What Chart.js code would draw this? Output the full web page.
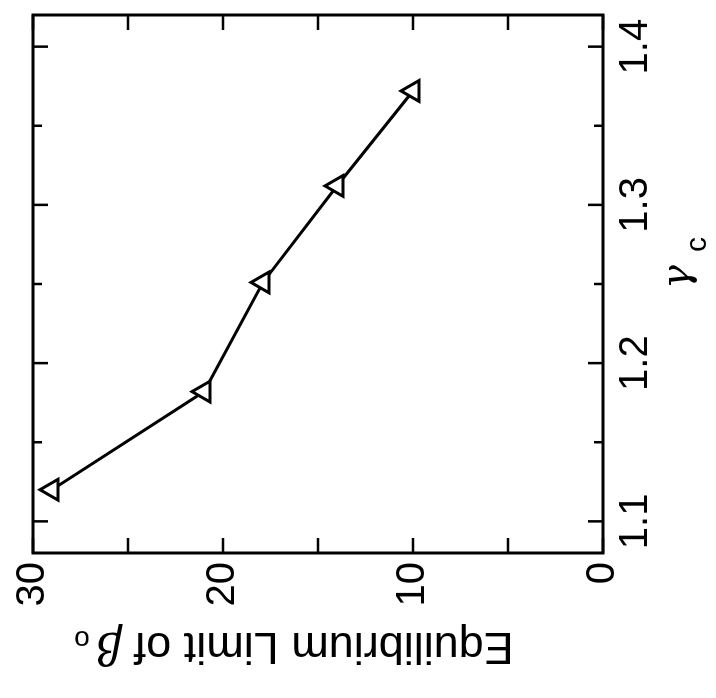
<!DOCTYPE html>
<html>
<head>
<meta charset="utf-8">
<script src="https://cdn.jsdelivr.net/npm/chart.js@4.4.0/dist/chart.umd.min.js"></script>
<style>
  html, body { margin: 0; padding: 0; background: #fff; overflow: hidden; }
  #wrap { position: relative; width: 716px; height: 698px; overflow: hidden; }
  /* the figure is printed turned a quarter turn counter-clockwise */
  #myChart { position: absolute; left: 0; top: 0; transform-origin: 0 0; transform: translate(0, 698px) rotate(-90deg); }
</style>
</head>
<body>
<div id="wrap"><canvas id="myChart" width="698" height="716"></canvas></div>
<script>
// values
const gammaC = [1.12, 1.182, 1.251, 1.312, 1.372];
const betaLimit = [29.0, 21.0, 17.9, 14.0, 10.0];

const gammaTicks = [1.1, 1.15, 1.2, 1.25, 1.3, 1.35, 1.4];
const gammaLabels = ['1.1', '', '1.2', '', '1.3', '', '1.4'];
const betaTicks = [0, 5, 10, 15, 20, 25, 30];
const betaLabels = ['0', '', '10', '', '20', '', '30'];

const FONT = '"Liberation Sans", Arial, Helvetica, sans-serif';

// frame with inward ticks on all four sides, plus axis titles with subscripts
const frameTicks = {
    id: 'frameTicks',
    afterDraw(chart) {
        const { ctx, chartArea: a, scales: { x, y } } = chart;
        ctx.save();
        ctx.strokeStyle = '#000';
        ctx.lineWidth = 3;
        ctx.strokeRect(a.left, a.top, a.width, a.height);
        ctx.lineWidth = 2.5;
        ctx.beginPath();
        gammaTicks.forEach((v, i) => {
            const px = x.getPixelForValue(v);
            const len = gammaLabels[i] ? 15 : 9;
            ctx.moveTo(px, a.bottom); ctx.lineTo(px, a.bottom - len);
            ctx.moveTo(px, a.top); ctx.lineTo(px, a.top + len);
        });
        betaTicks.forEach(v => {
            const py = y.getPixelForValue(v);
            ctx.moveTo(a.left, py); ctx.lineTo(a.left + 15, py);
            ctx.moveTo(a.right, py); ctx.lineTo(a.right - 15, py);
        });
        ctx.stroke();

        ctx.fillStyle = '#000';
        ctx.textBaseline = 'alphabetic';
        ctx.textAlign = 'left';

        // x title: gamma_c
        ctx.font = 'italic 40px "DejaVu Serif", serif';
        ctx.fillText('γ', a.left + 264, 689);
        ctx.font = '30px ' + FONT;
        ctx.fillText('c', a.left + 301, 706);

        // y title: Equilibrium Limit of beta_o (reads bottom to top)
        const main = 'Equilibrium Limit of ';
        ctx.font = '45px ' + FONT;
        const w1 = ctx.measureText(main).width;
        ctx.font = 'italic 44px "DejaVu Serif", serif';
        const w2 = ctx.measureText('β').width;
        ctx.font = '28px ' + FONT;
        const w3 = ctx.measureText('o').width;
        const total = w1 + w2 + 6 + w3;
        const cy = (a.top + a.bottom) / 2 - 24;
        ctx.translate(65, cy);
        ctx.rotate(-Math.PI / 2);
        let sx = -total / 2;
        ctx.font = '45px ' + FONT;
        ctx.fillText(main, sx, 0);
        sx += w1;
        ctx.font = 'italic 44px "DejaVu Serif", serif';
        ctx.fillText('β', sx, 0);
        sx += w2 + 6;
        ctx.font = '28px ' + FONT;
        ctx.fillText('o', sx, 2);
        ctx.restore();
    }
};

const ctx = document.getElementById('myChart').getContext('2d');

const myChart = new Chart(ctx, {
    type: 'line',
    data: {
        datasets: [{
            data: gammaC.map((g, i) => ({ x: g, y: betaLimit[i] })),
            borderColor: '#000',
            borderWidth: 3,
            pointStyle: 'triangle',
            pointRadius: 12,
            pointBorderWidth: 3,
            pointBackgroundColor: '#fff',
            pointBorderColor: '#000',
            tension: 0
        }]
    },
    options: {
        responsive: false,
        animation: false,
        layout: { padding: { left: 0, right: 14, top: 32, bottom: 0 } },
        scales: {
            x: {
                type: 'linear',
                min: 1.08,
                max: 1.42,
                afterBuildTicks: scale => { scale.ticks = gammaTicks.map(v => ({ value: v })); },
                afterFit: scale => { scale.height = 113; },
                grid: { display: false, drawTicks: false },
                border: { display: false },
                ticks: {
                    autoSkip: false,
                    maxRotation: 0,
                    padding: 9,
                    color: '#000',
                    font: { size: 40, family: FONT },
                    callback: (v, i) => gammaLabels[i]
                }
            },
            y: {
                type: 'linear',
                min: 0,
                max: 30,
                afterBuildTicks: scale => { scale.ticks = betaTicks.map(v => ({ value: v })); },
                afterFit: scale => { scale.width = 145; },
                grid: { display: false, drawTicks: false },
                border: { display: false },
                ticks: {
                    autoSkip: false,
                    padding: 9,
                    color: '#000',
                    font: { size: 40, family: FONT },
                    callback: (v, i) => betaLabels[i]
                }
            }
        },
        plugins: {
            legend: { display: false },
            tooltip: { enabled: false }
        }
    },
    plugins: [frameTicks]
});
</script>
</body>
</html>
